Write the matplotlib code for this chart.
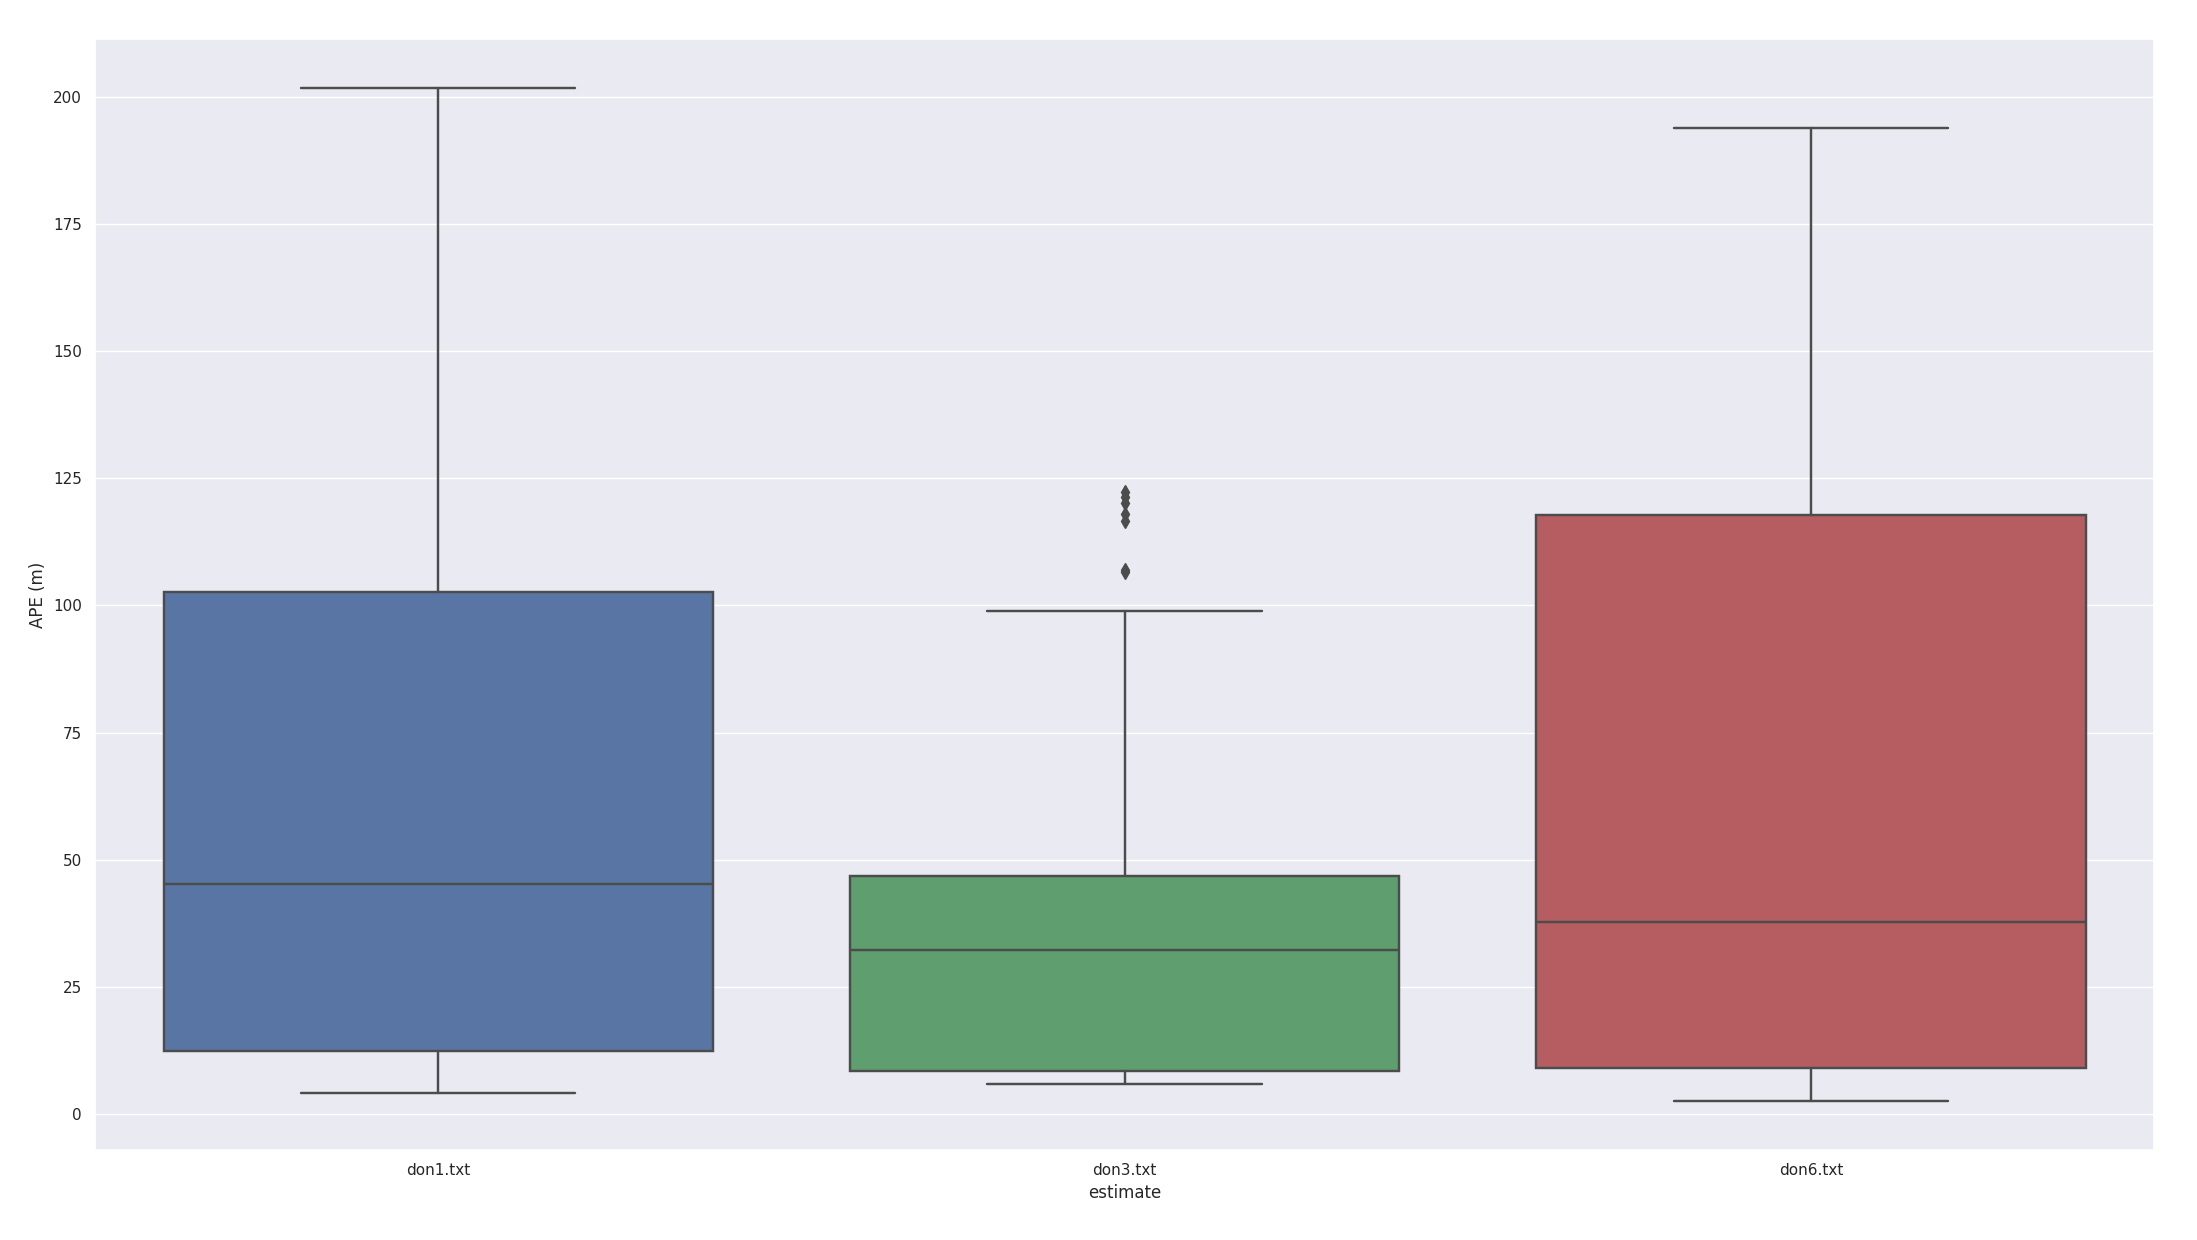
"""
Boxplot of APE per estimate file.
"""

import colorsys

import matplotlib
matplotlib.use("Agg")
import matplotlib.pyplot as plt
import matplotlib.colors as mcolors
import seaborn as sns


# =====================================================
# DATA
# =====================================================

estimates = ["don1.txt", "don3.txt", "don6.txt"]

whisker_low = [4.1, 5.8, 2.5]
q1 = [12.4, 8.5, 9.1]
median = [45.2, 32.2, 37.7]
q3 = [102.6, 46.7, 117.7]
whisker_high = [201.7, 99.0, 194.0]

fliers = [
    [],
    [122.4, 121.3, 120.1, 118.0, 116.7, 107.0, 106.5],
    [],
]


# =====================================================
# STYLE
# =====================================================

sns.set_theme(style="darkgrid")

# old seaborn "deep" colours, desaturated like its boxplot does
base_colors = ["#4C72B0", "#55A868", "#C44E52"]

palette = [sns.desaturate(c, 0.75) for c in base_colors]

lum = min(colorsys.rgb_to_hls(*c)[1] for c in palette) * 0.6
line_gray = mcolors.rgb2hex((lum, lum, lum))


# =====================================================
# PLOT
# =====================================================

fig = plt.figure(figsize=(21.97, 12.4), dpi=100)

ax = fig.add_axes([0.0432, 0.0726, 0.9373, 0.8959])

stats = []

for i, name in enumerate(estimates):

    stats.append({
        "label": name,
        "whislo": whisker_low[i],
        "q1": q1[i],
        "med": median[i],
        "q3": q3[i],
        "whishi": whisker_high[i],
        "fliers": fliers[i],
    })

lw = 1.75

bp = ax.bxp(
    stats,
    positions=range(len(estimates)),
    widths=0.8,
    patch_artist=True,
    boxprops=dict(edgecolor=line_gray, linewidth=lw),
    whiskerprops=dict(color=line_gray, linewidth=lw),
    capprops=dict(color=line_gray, linewidth=lw),
    medianprops=dict(color=line_gray, linewidth=lw),
    flierprops=dict(
        marker="d",
        markersize=7,
        markerfacecolor=line_gray,
        markeredgecolor=line_gray,
        linestyle="none",
    ),
)

for patch, color in zip(bp["boxes"], palette):

    patch.set_facecolor(color)

ax.xaxis.grid(False)

ax.set_xlim(-0.5, len(estimates) - 0.5)

ax.set_ylim(-7.1, 211.4)

ax.set_yticks([0, 25, 50, 75, 100, 125, 150, 175, 200])

ax.set_xticks(range(len(estimates)))

ax.set_xticklabels(estimates)

ax.tick_params(labelsize=11)

ax.set_xlabel("estimate", fontsize=12)

ax.set_ylabel("APE (m)", fontsize=12)

fig.savefig("out.png", dpi=100, facecolor="white")
